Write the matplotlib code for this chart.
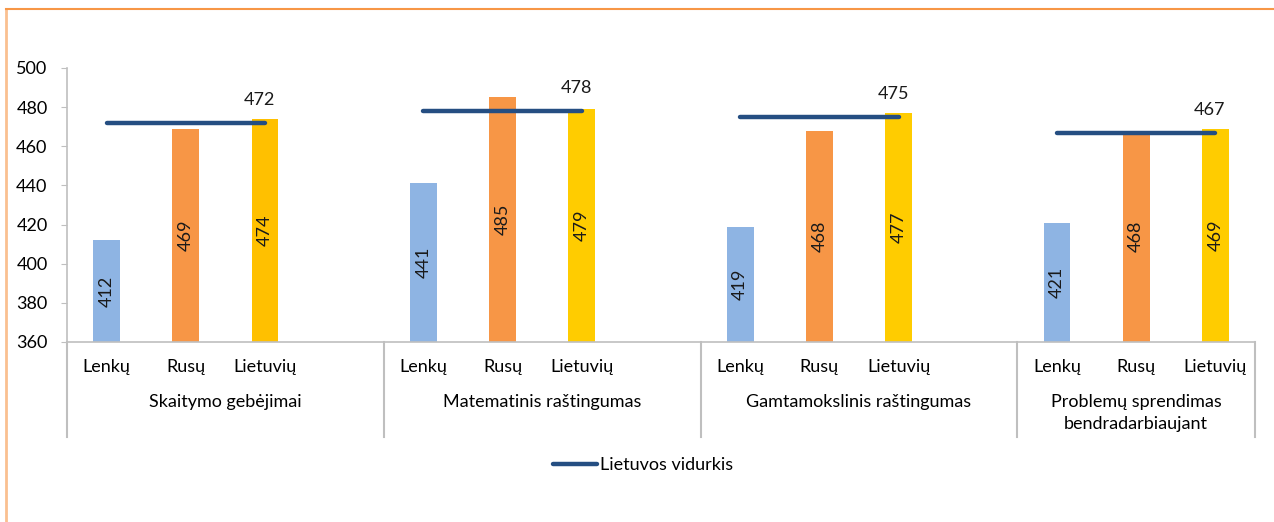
import matplotlib
matplotlib.use('Agg')
import matplotlib.pyplot as plt
from matplotlib.lines import Line2D

plt.rcParams['font.family'] = ['Lato', 'DejaVu Sans']

# duomenys
groups = ['Skaitymo gebėjimai', 'Matematinis raštingumas', 'Gamtamokslinis raštingumas',
          'Problemų sprendimas\nbendradarbiaujant']
langs = ['Lenkų', 'Rusų', 'Lietuvių']
lenku = [412, 441, 419, 421]
rusu = [469, 485, 468, 468]
lietuviu = [474, 479, 477, 469]
vidurkis = [472, 478, 475, 467]

colors = ['#8EB4E3', '#F79646', '#FFCC00']
line_color = '#254E82'
fs = 13

fig = plt.figure(figsize=(12.74, 5.22), dpi=100)
ax = fig.add_axes([67 / 1274, 1 - 342 / 522, (1255 - 67) / 1274, (342 - 68) / 522])

# kiekviena grupe uzima 4 vietas, paskutine 3
starts = [0, 4, 8, 12]
series = [lenku, rusu, lietuviu]
for g, s in enumerate(starts):
    for i, vals in enumerate(series):
        c = colors[i]
        if g == 0 and i == 2:
            c = '#FFC000'
        x = s + i + 0.5
        ax.bar(x, vals[g] - 360, bottom=360, width=0.34, color=c, zorder=2)
        ax.text(x, 360 + (vals[g] - 360) / 2, str(vals[g]), rotation=90,
                ha='center', va='center', fontsize=fs, color='#1a1a1a', zorder=4)
    xs = [s + 0.5, s + 2.5]
    ax.plot(xs, [vidurkis[g]] * 2, color=line_color, lw=3.2, solid_capstyle='round', zorder=3,
            label='Lietuvos vidurkis' if g == 0 else None)
    ax.annotate(str(vidurkis[g]), (s + 2.5, vidurkis[g]), xytext=(-4, 16.5), textcoords='offset points',
                ha='center', va='center', fontsize=fs, color='#1a1a1a')

ax.set_xlim(0, 15)
ax.set_ylim(360, 500)
ax.set_yticks(range(360, 501, 20))
ax.tick_params(axis='y', labelsize=fs, length=4, color='#BFBFBF', pad=10)
ax.set_xticks([])
for sp in ['top', 'right']:
    ax.spines[sp].set_visible(False)
ax.spines['left'].set_color('#BFBFBF')
ax.spines['bottom'].set_color('#BFBFBF')
ax.spines['left'].set_linewidth(1.2)
ax.spines['bottom'].set_linewidth(1.2)

# kategoriju asis (du lygiai)
trans = ax.get_xaxis_transform()
for g, s in enumerate(starts):
    for i, lang in enumerate(langs):
        ax.text(s + i + 0.5, -0.09, lang, transform=trans, ha='center', va='center', fontsize=fs)
    if g < 3:
        ax.text(s + 2, -0.22, groups[g], transform=trans, ha='center', va='center', fontsize=fs)
    else:
        ax.text(s + 1.5, -0.26, groups[g], transform=trans, ha='center', va='center',
                fontsize=fs, linespacing=1.45)
for x in [0, 4, 8, 12, 15]:
    ax.add_line(Line2D([x, x], [0, -0.345], transform=trans, color='#BFBFBF', lw=1.5, clip_on=False))

fig.legend(loc='center', bbox_to_anchor=(0.505, 1 - 465 / 522), frameon=False, fontsize=fs,
           handlelength=2.4, handletextpad=0.2)

# remelis
fig.add_artist(Line2D([6 / 1274, 6 / 1274], [0, 1 - 9 / 522], transform=fig.transFigure,
                      color='#FAC090', lw=2))
fig.add_artist(Line2D([6 / 1274, 1], [1 - 9 / 522, 1 - 9 / 522], transform=fig.transFigure,
                      color='#F79646', lw=1.5))

fig.savefig('out.png', dpi=100)
